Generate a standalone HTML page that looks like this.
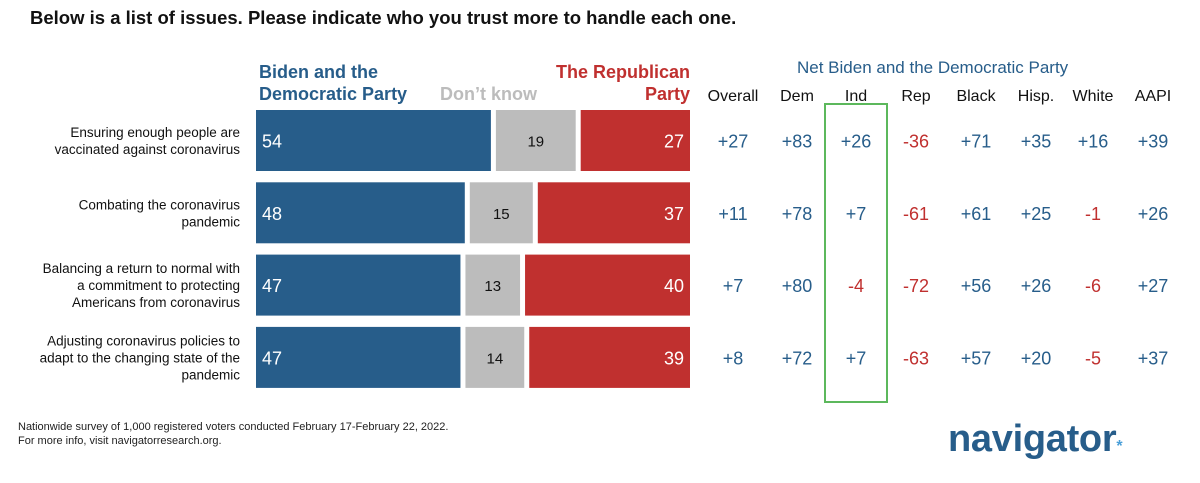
<!DOCTYPE html>
<html><head><meta charset="utf-8"><style>
body{margin:0;width:1200px;height:483px;background:#fff;font-family:"Liberation Sans",sans-serif;position:relative;overflow:hidden}
.a{position:absolute}
</style></head><body>
<div class="a" style="left:30px;top:7px;font-size:18.5px;font-weight:bold;color:#111">Below is a list of issues. Please indicate who you trust more to handle each one.</div>
<div class="a" style="left:259px;top:61px;font-size:18px;line-height:22px;color:#275d8a;font-weight:bold">Biden and the<br>Democratic Party</div>
<div class="a" style="left:440px;top:83px;font-size:18px;line-height:22px;color:#bcbcbc;font-weight:bold">Don’t know</div>
<div class="a" style="right:510px;top:61px;font-size:18px;line-height:22px;color:#c0302f;font-weight:bold;text-align:right">The Republican<br>Party</div>
<div class="a" style="left:797px;top:58px;font-size:17px;color:#275d8a">Net Biden and the Democratic Party</div>
<div class="a" style="left:824px;top:103px;width:60px;height:296px;border:2px solid #5cb85c"></div>
<svg id="c" class="a" style="left:0;top:0" width="1200" height="483"></svg>
<div class="a" style="left:18px;top:420px;font-size:11px;line-height:14px;color:#222">Nationwide survey of 1,000 registered voters conducted February 17-February 22, 2022.<br>For more info, visit navigatorresearch.org.</div>
<div class="a" style="left:948px;top:418px;font-size:38px;font-weight:bold;color:#275d8a;letter-spacing:-0.3px">navigator<span style="font-size:16px;color:#4a9fd8">*</span></div>
<script>
const issues=["Ensuring enough people are|vaccinated against coronavirus","Combating the coronavirus|pandemic","Balancing a return to normal with|a commitment to protecting|Americans from coronavirus","Adjusting coronavirus policies to|adapt to the changing state of the|pandemic"];
const biden=[54,48,47,47];
const dontKnow=[19,15,13,14];
const rep=[27,37,40,39];
const groups=["Overall","Dem","Ind","Rep","Black","Hisp.","White","AAPI"];
const net=[[27,83,26,-36,71,35,16,39],[11,78,7,-61,61,25,-1,26],[7,80,-4,-72,56,26,-6,27],[8,72,7,-63,57,20,-5,37]];
const svg=document.getElementById('c');const NS='http://www.w3.org/2000/svg';
function el(t,a,txt){const e=document.createElementNS(NS,t);for(const k in a)e.setAttribute(k,a[k]);if(txt!==undefined)e.textContent=txt;svg.appendChild(e);return e;}
const x0=256,x1=690,gap=5,scB=4.35,scD=4.2,rowY=i=>110+i*72.3,bh=61;
const colX=[733,797,856,916,976,1036,1093,1153];
groups.forEach((g,j)=>{const t=el('text',{x:colX[j],y:101,'text-anchor':'middle','font-size':16,fill:'#111'},g);

});
issues.forEach((s,i)=>{const y=rowY(i),cy=y+bh/2;
const lines=s.split('|');lines.forEach((l,k)=>{const t=el('text',{x:240,y:cy+5+(k-(lines.length-1)/2)*17,'text-anchor':'end','font-size':13.5,fill:'#111'},l);

});
const wb=biden[i]*scB,wd=dontKnow[i]*scD;const xr=x0+wb+wd+2*gap,wr=x1-xr;
let r=el('rect',{x:x0,y:y,width:wb,height:bh,fill:'#275d8a'});


r=el('rect',{x:x0+wb+gap,y:y,width:wd,height:bh,fill:'#bcbcbc'});


r=el('rect',{x:xr,y:y,width:wr,height:bh,fill:'#c0302f'});


el('text',{x:x0+6,y:cy+7,'font-size':18,fill:'#fff'},biden[i]);
el('text',{x:x0+wb+gap+wd/2,y:cy+6,'text-anchor':'middle','font-size':15,fill:'#111'},dontKnow[i]);
el('text',{x:x1-6,y:cy+7,'text-anchor':'end','font-size':18,fill:'#fff'},rep[i]);
net[i].forEach((v,j)=>{const t=el('text',{x:colX[j],y:cy+7,'text-anchor':'middle','font-size':18,fill:v<0?'#c0302f':'#275d8a'},(v<0?'-':'+')+Math.abs(v));

});
});
</script>
</body></html>
